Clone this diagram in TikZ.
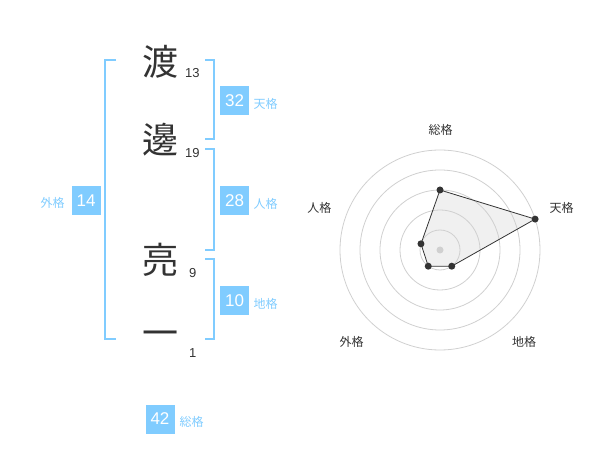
\documentclass[tikz,border=0pt]{standalone}
\usepackage{fontspec}
\setmainfont{Liberation Sans}
\newfontfamily\jp{Noto Sans CJK JP}
\definecolor{kblue}{HTML}{80CCFF}
\definecolor{ktext}{HTML}{333333}
\definecolor{ringc}{HTML}{D0D0D0}
\definecolor{areac}{HTML}{F0F0F0}
\begin{document}
\begin{tikzpicture}[x=1pt,y=-1pt,
 kanji/.style={font=\jp\fontsize{36}{36}\selectfont, text=ktext, inner sep=0pt},
 strokes/.style={font=\fontsize{13}{13}\selectfont, text=ktext, inner sep=0pt},
 numbox/.style={fill=kblue, text=white, minimum width=29pt, minimum height=29pt, inner sep=0pt, font=\fontsize{17}{17}\selectfont},
 kaku/.style={text=kblue, font=\jp\fontsize{12}{12}\selectfont, inner sep=0pt},
 brk/.style={draw=kblue, line width=2pt},
 axlbl/.style={text=ktext, font=\jp\fontsize{12}{12}\selectfont, inner sep=0pt},
 ringline/.style={draw=ringc, line width=0.8pt},
 dot/.style={circle, fill=ktext, inner sep=0pt, minimum size=7pt},
]
\useasboundingbox (0,0) rectangle (600,470);

% name characters
\node[kanji] (c1) at (160,61.7) {渡};
\node[kanji] (c2) at (160,140) {邊};
\node[kanji] (c3) at (160,260) {亮};
\node[kanji] (c4) at (160,338.3) {一};
\node[strokes] (s1) at (192.3,72.7) {13};
\node[strokes] (s2) at (192.3,152.7) {19};
\node[strokes] (s3) at (192.7,273.3) {9};
\node[strokes] (s4) at (192.7,352.7) {1};

% brackets
\draw[brk] (116,60) -- (105,60) -- (105,339.3) -- (116,339.3);
\draw[brk] (205,60) -- (214.3,60) -- (214.3,139.3) -- (205,139.3);
\draw[brk] (205,149.3) -- (214.3,149.3) -- (214.3,250) -- (205,250);
\draw[brk] (205,259.3) -- (214.3,259.3) -- (214.3,339.3) -- (205,339.3);

% boxes and labels
\node[numbox] (ten) at (234.5,100.5) {32};
\node[kaku] (tenl) at (265.7,104) {天格};
\node[numbox] (jin) at (234.5,200.5) {28};
\node[kaku] (jinl) at (265.7,204) {人格};
\node[numbox] (chi) at (234.5,300.5) {10};
\node[kaku] (chil) at (265.7,304) {地格};
\node[numbox] (gai) at (86.2,200.5) {14};
\node[kaku] (gail) at (52.7,203.3) {外格};
\node[numbox] (sou) at (160,419) {42};
\node[kaku] (soul) at (191.7,421.7) {総格};

% radar chart
\begin{scope}[shift={(440,250)}, y=1pt]
  \coordinate (pS) at (90:60);
  \coordinate (pT) at (18:100);
  \coordinate (pC) at (-54:20);
  \coordinate (pG) at (-126:20);
  \coordinate (pJ) at (162:20);
  \fill[areac] (pS) -- (pT) -- (pC) -- (pG) -- (pJ) -- cycle;
  \foreach \r in {20,40,60,80,100} \draw[ringline] (0,0) circle (\r pt);
  \draw[ktext, line width=0.8pt] (pS) -- (pT) -- (pC) -- (pG) -- (pJ) -- cycle;
  \node[circle, fill=ringc, inner sep=0pt, minimum size=7pt] (ctr) at (0,0) {};
  \foreach \p in {pS,pT,pC,pG,pJ} \node[dot] at (\p) {};
\end{scope}
\node[axlbl] (ls) at (440.7,130) {総格};
\node[axlbl] (lt) at (561.7,208.3) {天格};
\node[axlbl] (lj) at (319.3,208.3) {人格};
\node[axlbl] (lg) at (351.7,341.7) {外格};
\node[axlbl] (lc) at (524,341.7) {地格};
\end{tikzpicture}
\end{document}
